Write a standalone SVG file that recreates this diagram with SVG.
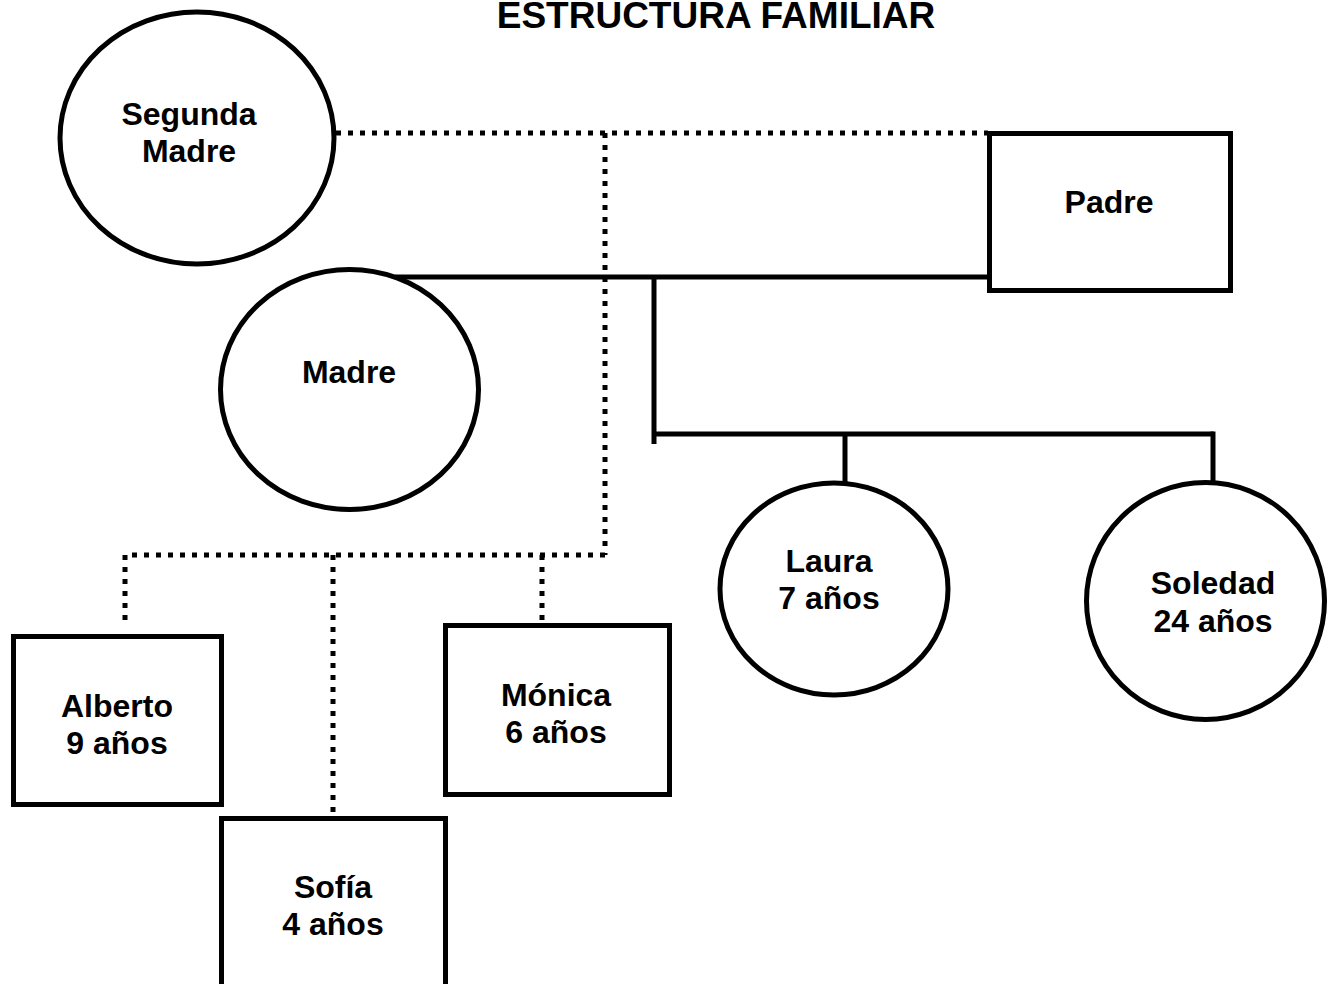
<svg xmlns="http://www.w3.org/2000/svg" width="1333" height="984" viewBox="0 0 1333 984">
<style>
.bg{fill:#ffffff}
.node{fill:#ffffff;stroke:#000000;stroke-width:5}
.solid{fill:none;stroke:#000000;stroke-width:5}
.dot{fill:none;stroke:#000000;stroke-width:5;stroke-dasharray:5 7}
.lbl{font-family:"Liberation Sans",Arial,sans-serif;font-weight:bold;font-size:32px;fill:#000000;text-anchor:middle}
.title{font-family:"Liberation Sans",Arial,sans-serif;font-weight:bold;font-size:37px;fill:#000000;text-anchor:middle}
</style>
<rect class="bg" x="0" y="0" width="1333" height="984"/>
<text class="title" x="716" y="28">ESTRUCTURA FAMILIAR</text>
<g id="connectors">
  <g id="dotted">
    <path class="dot" d="M336 133 H988"/>
    <path class="dot" d="M605 133 V555"/>
    <path class="dot" d="M605 555 H125"/>
    <path class="dot" d="M125 555 V623"/>
    <path class="dot" d="M333 555 V816"/>
    <path class="dot" d="M542 555 V621"/>
  </g>
  <g id="solid">
    <path class="solid" d="M395 277 H989"/>
    <path class="solid" d="M654 277 V444"/>
    <path class="solid" d="M654 434 H1213.5"/>
    <path class="solid" d="M845 434 V483"/>
    <path class="solid" d="M1213 431.5 V483"/>
  </g>
</g>
<g id="segunda-madre">
  <ellipse class="node" cx="197" cy="138" rx="137" ry="126"/>
  <text class="lbl" x="189" y="125">Segunda</text>
  <text class="lbl" x="189" y="162">Madre</text>
</g>
<g id="padre">
  <rect class="node" x="989.5" y="133.5" width="241" height="157"/>
  <text class="lbl" x="1109" y="213">Padre</text>
</g>
<g id="madre">
  <ellipse class="node" cx="349.5" cy="389.5" rx="129" ry="120"/>
  <text class="lbl" x="349" y="383">Madre</text>
</g>
<g id="laura">
  <ellipse class="node" cx="834" cy="589" rx="114" ry="106"/>
  <text class="lbl" x="829" y="572">Laura</text>
  <text class="lbl" x="829" y="609">7 años</text>
</g>
<g id="soledad">
  <ellipse class="node" cx="1205.5" cy="601" rx="119" ry="118.5"/>
  <text class="lbl" x="1213" y="594">Soledad</text>
  <text class="lbl" x="1213" y="632">24 años</text>
</g>
<g id="alberto">
  <rect class="node" x="13.5" y="636.5" width="208" height="168"/>
  <text class="lbl" x="117" y="717">Alberto</text>
  <text class="lbl" x="117" y="754">9 años</text>
</g>
<g id="monica">
  <rect class="node" x="445.5" y="625.5" width="224" height="169"/>
  <text class="lbl" x="556" y="706">Mónica</text>
  <text class="lbl" x="556" y="743">6 años</text>
</g>
<g id="sofia">
  <rect class="node" x="221.5" y="818.5" width="224" height="180"/>
  <text class="lbl" x="333" y="898">Sofía</text>
  <text class="lbl" x="333" y="935">4 años</text>
</g>
</svg>
